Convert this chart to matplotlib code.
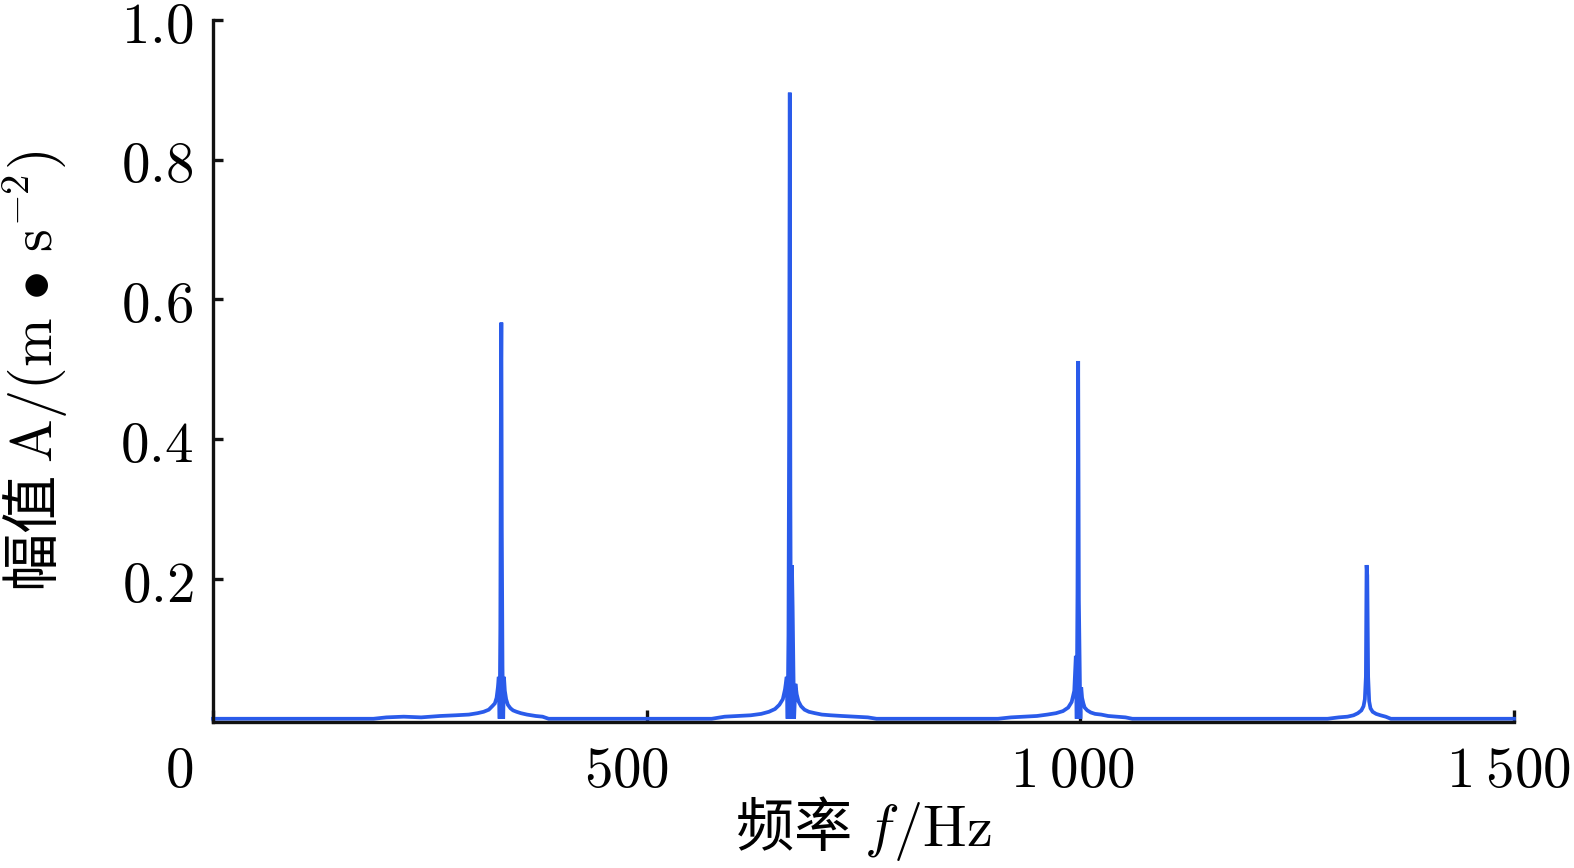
import matplotlib
matplotlib.use("Agg")
import matplotlib.pyplot as plt
import matplotlib.transforms as mtransforms
import numpy as np

plt.rcParams['font.family'] = ['Noto Sans CJK SC', 'DejaVu Sans']
plt.rcParams['mathtext.fontset'] = 'cm'

# ─────────────────────────────────────────────
# Data
# ─────────────────────────────────────────────
p1_hz = [185, 200, 220, 240, 262, 280, 295, 305, 312, 318, 322, 325, 327, 328.5, 329.5,
         330.5, 331.3, 332, 332.5, 333, 333.8, 334.6, 335.5, 336.5, 338, 340, 343, 346,
         350, 355, 362, 372, 380, 387]
p1_amp = [0.0, 0.002, 0.003, 0.002, 0.004, 0.005, 0.006, 0.008, 0.010, 0.013, 0.018, 0.022,
          0.030, 0.045, 0.060, 0.000, 0.130, 0.470, 0.567, 0.270, 0.075, 0.000, 0.060, 0.040,
          0.028, 0.020, 0.015, 0.012, 0.010, 0.008, 0.006, 0.004, 0.003, 0.0]

p2_hz = [575, 590, 605, 620, 632, 641, 648, 653, 657, 659.5, 661.5, 662.5, 663.5, 664.3,
         665, 665.7, 666.5, 667.5, 668.3, 669.2, 670, 671.5, 673, 675, 678, 682, 687, 694,
         702, 712, 725, 740, 755, 765]
p2_amp = [0.0, 0.003, 0.004, 0.005, 0.007, 0.010, 0.014, 0.020, 0.028, 0.042, 0.060, 0.000,
          0.120, 0.430, 0.896, 0.320, 0.000, 0.220, 0.160, 0.070, 0.000, 0.050, 0.035, 0.025,
          0.018, 0.013, 0.010, 0.008, 0.006, 0.005, 0.004, 0.003, 0.002, 0.0]

p3_hz = [905, 920, 935, 950, 962, 972, 980, 986, 990, 993, 994.8, 995.8, 996.7, 997.5,
         998.3, 999.2, 1000, 1001, 1002, 1003.5, 1005, 1008, 1012, 1017, 1024, 1032, 1042,
         1052, 1060]
p3_amp = [0.0, 0.002, 0.003, 0.004, 0.006, 0.008, 0.011, 0.016, 0.024, 0.040, 0.090, 0.000,
          0.180, 0.512, 0.170, 0.080, 0.000, 0.045, 0.030, 0.022, 0.016, 0.012, 0.009, 0.007,
          0.006, 0.004, 0.003, 0.002, 0.0]

p4_hz = [1285, 1298, 1308, 1315, 1320, 1324, 1326.5, 1328, 1329.2, 1330, 1330.8, 1331.8,
         1333, 1334.5, 1337, 1341, 1346, 1352, 1358]
p4_amp = [0.0, 0.002, 0.003, 0.005, 0.008, 0.012, 0.018, 0.028, 0.060, 0.220, 0.205, 0.060,
          0.025, 0.015, 0.010, 0.007, 0.005, 0.003, 0.0]

x_ticks = [0, 500, 1000, 1500]
x_ticklabels = [r'$0$', r'$500$', r'$1\:000$', r'$1\:500$']
y_ticks = [0.2, 0.4, 0.6, 0.8, 1.0]
y_ticklabels = [r'$0.2$', r'$0.4$', r'$0.6$', r'$0.8$', r'$1.0$']

freq = [0] + p1_hz + p2_hz + p3_hz + p4_hz + [1500]
amp = [0.0] + p1_amp + p2_amp + p3_amp + p4_amp + [0.0]

# ─────────────────────────────────────────────
# Chart
# ─────────────────────────────────────────────
fig = plt.figure(figsize=(15.74, 8.68), dpi=100)
ax = fig.add_axes([0.1353, 0.1683, 0.9619 - 0.1353, 0.977 - 0.1683])

ax.plot(freq, amp, color='#2A5BEA', lw=2.7, solid_joinstyle='miter', clip_on=False)

ax.set_xlim(0, 1500)
ax.set_ylim(-0.0045, 1.0)
for s in ['top', 'right']:
    ax.spines[s].set_visible(False)
for s in ['left', 'bottom']:
    ax.spines[s].set_linewidth(2.4)
    ax.spines[s].set_color('#111111')
ax.spines['left'].set_bounds(-0.0045, 1.0)

ax.set_xticks(x_ticks)
ax.set_xticklabels(x_ticklabels, fontsize=41)
ax.set_yticks(y_ticks)
ax.set_yticklabels(y_ticklabels, fontsize=41)
ax.tick_params(axis='x', direction='in', length=9, width=2.4, pad=14, color='#111111')
ax.tick_params(axis='y', direction='in', length=7, width=2.4, pad=14, color='#111111')

# nudge x tick labels like the reference
shifts_px = [-34, -20, -8, -6]
for lab, dx in zip(ax.get_xticklabels(), shifts_px):
    lab.set_transform(lab.get_transform() +
                      mtransforms.ScaledTranslation(dx / 100, 0, fig.dpi_scale_trans))

ax.set_xlabel(r'频率 $f/\mathrm{Hz}$', fontsize=42, labelpad=-4)
ax.set_ylabel(r'幅值 $\mathrm{A/(m\,}\bullet\mathrm{\,s^{-2})}$', fontsize=42, labelpad=36)

fig.savefig('out.png', dpi=100)
